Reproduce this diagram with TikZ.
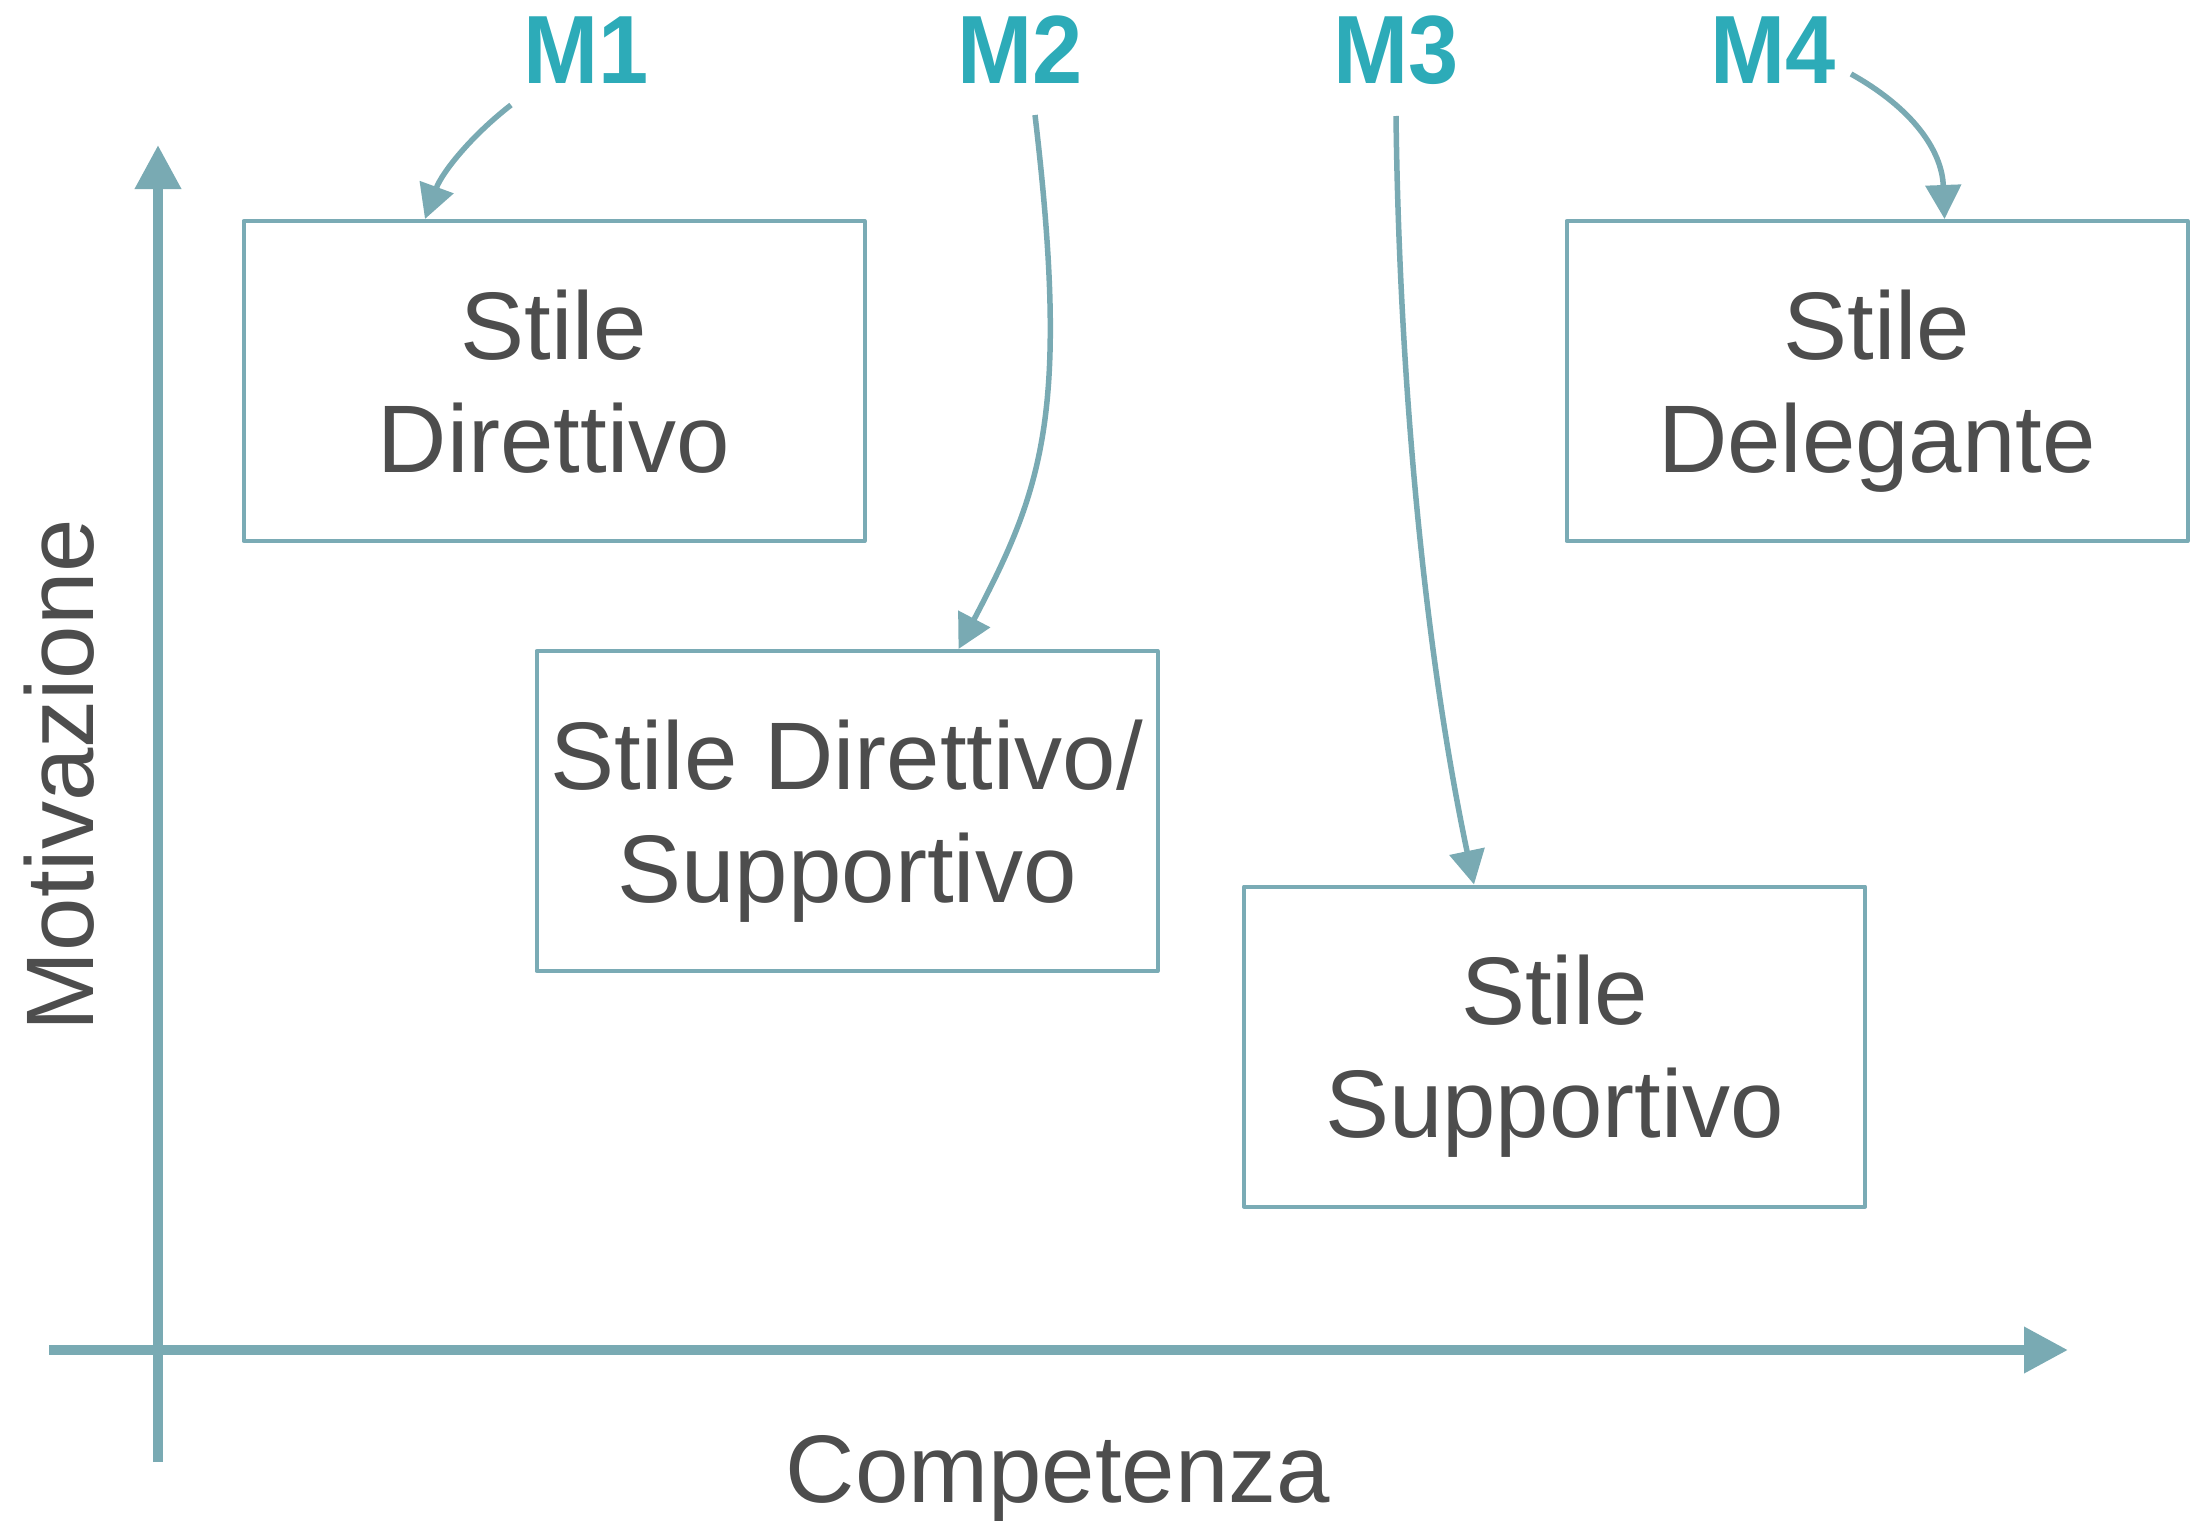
\documentclass[tikz,border=0pt]{standalone}
\usepackage{fontspec}
\usepackage{graphicx}
\setmainfont{Liberation Sans}
\usetikzlibrary{arrows.meta,calc}
\definecolor{axisc}{HTML}{79AAB3}
\definecolor{boxc}{HTML}{7AABB5}
\definecolor{mc}{HTML}{2DABB8}
\definecolor{txt}{HTML}{4D4D4D}
\newcommand{\mtext}[1]{\scalebox{0.93}[1]{#1}}
\begin{document}
\begin{tikzpicture}[x=1pt,y=-1pt,
  box/.style={draw=boxc,line width=4pt,line join=round,minimum width=621pt,minimum height=320pt,inner sep=0pt,align=center,text=txt,font=\fontsize{96}{113}\selectfont},
  mlab/.style={text=mc,font=\fontsize{97}{110}\selectfont\bfseries,inner sep=0pt,anchor=base},
  axlab/.style={text=txt,font=\fontsize{96}{115}\selectfont,inner sep=0pt,anchor=base},
  axisline/.style={draw=axisc,line width=10pt,-{Triangle[length=44pt,width=44pt]}},
  conn/.style={draw=axisc,line width=5.5pt,-{Triangle[length=34pt,width=35pt]}},
]
\useasboundingbox (0,0) rectangle (2194,1520);

% axes
\coordinate (yb) at (158,1462);
\coordinate (yt) at (158,145);
\coordinate (xl) at (49,1350);
\coordinate (xr) at (2068,1350);
\draw[axisline] (yb) -- (yt);
\draw[axisline] (xl) -- (xr);

\node[axlab] (comp) at (1058,1502) {Competenza};
\node[axlab,rotate=90] (motiv) at (93,775) {Motivazione};

% boxes
\node[box] (b1) at (554,381) {Stile\\\smash{Direttivo}};
\node[box] (b2) at (847,811) {Stile Direttivo/\\\smash{Supportivo}};
\node[box] (b3) at (1554.5,1046.5) {Stile\\\smash{Supportivo}};
\node[box] (b4) at (1877,381) {Stile\\\smash{Delegante}};

% labels
\node[mlab] (m1) at (586,84) {\mtext{M1}};
\node[mlab] (m2) at (1020,84) {\mtext{M2}};
\node[mlab] (m3) at (1396,84) {\mtext{M3}};
\node[mlab] (m4) at (1773,84) {\mtext{M4}};

% connectors
\draw[conn] ($(m1.base)+(-75,21)$) .. controls ($(m1.base)+(-115,52)$) and ($(m1.base)+(-144,88.5)$) .. ([xshift=183.5pt]b1.north west);
\draw[conn] ($(m2.base)+(15,31)$) .. controls ($(m2.base)+(50,329)$) and ($(m2.base)+(23,404)$) .. ([xshift=424pt]b2.north west);
\draw[conn] ($(m3.base)+(0,32)$) .. controls ($(m3.base)+(3,282)$) and ($(m3.base)+(26.5,556)$) .. ([xshift=232pt]b3.north west);
\draw[conn] ($(m4.base)+(78,-10)$) .. controls ($(m4.base)+(139,24)$) and ($(m4.base)+(169,66)$) .. ([xshift=380pt]b4.north west);
\end{tikzpicture}
\end{document}
